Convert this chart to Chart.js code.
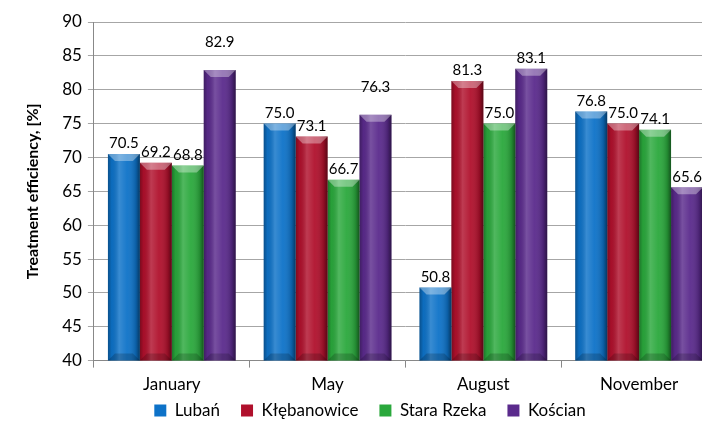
<!DOCTYPE html>
<html>
<head>
<meta charset="utf-8">
<script src="https://cdn.jsdelivr.net/npm/chart.js@4.4.0/dist/chart.umd.min.js"></script>
<style>
  html, body { margin: 0; padding: 0; background: #fff; overflow: hidden; }
  #wrap { width: 717px; height: 423px; }
</style>
</head>
<body>
<div id="wrap"><canvas id="barChart"></canvas></div>
<script>
var months = ['January', 'May', 'August', 'November'];
var luban = [70.5, 75.0, 50.8, 76.8];
var klebanowice = [69.2, 73.1, 81.3, 75.0];
var staraRzeka = [68.8, 66.7, 75.0, 74.1];
var koscian = [82.9, 76.3, 83.1, 65.6];
var yTicks = [40, 45, 50, 55, 60, 65, 70, 75, 80, 85, 90];

var fontFamily = 'Lato, "Open Sans", sans-serif';

// shading + value labels drawn over the bars
var barLook = {
    id: 'barLook',
    beforeInit: function (chart) {
        // drop the empty strip chart.js keeps under the legend
        var fit = chart.legend.fit;
        chart.legend.fit = function () {
            fit.call(this);
            this.height -= 10;
        };
    },
    afterDatasetsDraw: function (chart) {
        var ctx = chart.ctx;
        var area = chart.chartArea;
        chart.data.datasets.forEach(function (ds, di) {
            var meta = chart.getDatasetMeta(di);
            meta.data.forEach(function (bar, i) {
                var x0 = bar.x - bar.width / 2, x1 = bar.x + bar.width / 2;
                var top = bar.y, bottom = Math.min(bar.base, area.bottom);
                var w = x1 - x0, b = 7;
                ctx.save();
                var g = ctx.createLinearGradient(x0, 0, x1, 0);
                g.addColorStop(0, 'rgba(0,0,0,0.30)');
                g.addColorStop(0.12, 'rgba(0,0,0,0.05)');
                g.addColorStop(0.35, 'rgba(255,255,255,0.18)');
                g.addColorStop(0.6, 'rgba(255,255,255,0.05)');
                g.addColorStop(0.88, 'rgba(0,0,0,0.18)');
                g.addColorStop(1, 'rgba(0,0,0,0.5)');
                ctx.fillStyle = g;
                ctx.fillRect(x0, top, w, bottom - top);
                // top bevel
                ctx.fillStyle = 'rgba(255,255,255,0.35)';
                ctx.beginPath();
                ctx.moveTo(x0, top); ctx.lineTo(x1, top);
                ctx.lineTo(x1 - b, top + b); ctx.lineTo(x0 + b, top + b);
                ctx.closePath(); ctx.fill();
                // bottom bevel
                ctx.fillStyle = 'rgba(0,0,0,0.18)';
                ctx.beginPath();
                ctx.moveTo(x0, bottom); ctx.lineTo(x1, bottom);
                ctx.lineTo(x1 - b, bottom - b); ctx.lineTo(x0 + b, bottom - b);
                ctx.closePath(); ctx.fill();
                // value label
                ctx.fillStyle = '#000';
                ctx.font = '15px ' + fontFamily;
                ctx.textAlign = 'center';
                ctx.textBaseline = 'bottom';
                var lift = (ds.label === 'Kościan' && (i === 0 || i === 1)) ? 20 : 3;
                ctx.fillText(ds.data[i].toFixed(1), bar.x, top - lift);
                ctx.restore();
            });
        });
    }
};

function Charts() {
    var canvas = document.getElementById('barChart').getContext('2d');
    var data = {
        labels: months,
        datasets: [
            { label: 'Lubań', data: luban, backgroundColor: '#0d72c8' },
            { label: 'Kłębanowice', data: klebanowice, backgroundColor: '#b0102c' },
            { label: 'Stara Rzeka', data: staraRzeka, backgroundColor: '#2aa83c' },
            { label: 'Kościan', data: koscian, backgroundColor: '#5a2a8c' }
        ]
    };
    var options = {
        maintainAspectRatio: false,
        responsive: true,
        animation: false,
        layout: { padding: { top: 22, left: 23, right: 0, bottom: 4 } },
        datasets: { bar: { categoryPercentage: 0.82, barPercentage: 1.0, borderWidth: 0 } },
        plugins: {
            tooltip: { enabled: false },
            legend: {
                position: 'bottom',
                align: 'center',
                labels: {
                    usePointStyle: true,
                    pointStyle: 'rect',
                    boxWidth: 12,
                    boxHeight: 12,
                    padding: 8,
                    color: '#000',
                    font: { family: fontFamily, size: 17 },
                    generateLabels: function (chart) {
                        var items = Chart.defaults.plugins.legend.labels.generateLabels(chart);
                        items.forEach(function (it, k) {
                            if (k < items.length - 1) it.text = it.text + '   ';
                        });
                        return items;
                    }
                }
            }
        },
        scales: {
            x: {
                offset: true,
                afterFit: function (axis) { axis.height -= 8; },
                grid: { display: true, drawOnChartArea: false, offset: true, tickLength: 7, color: '#888' },
                border: { color: '#888' },
                ticks: { color: '#000', padding: 7, font: { family: fontFamily, size: 17 } }
            },
            y: {
                min: 40,
                max: 90,
                afterBuildTicks: function (axis) {
                    axis.ticks = yTicks.map(function (v) { return { value: v }; });
                },
                grid: { color: '#a6a6a6', tickLength: 6 },
                border: { color: '#888' },
                title: {
                    display: true,
                    text: 'Treatment efficiency, [%]',
                    color: '#000',
                    padding: { top: 0, bottom: 14 },
                    font: { family: fontFamily, size: 16, weight: 'bold' }
                },
                ticks: { color: '#000', padding: 6, font: { family: fontFamily, size: 17 } }
            }
        }
    };
    new Chart(canvas, { type: 'bar', data: data, options: options, plugins: [barLook] });
}

Charts();
</script>
</body>
</html>
